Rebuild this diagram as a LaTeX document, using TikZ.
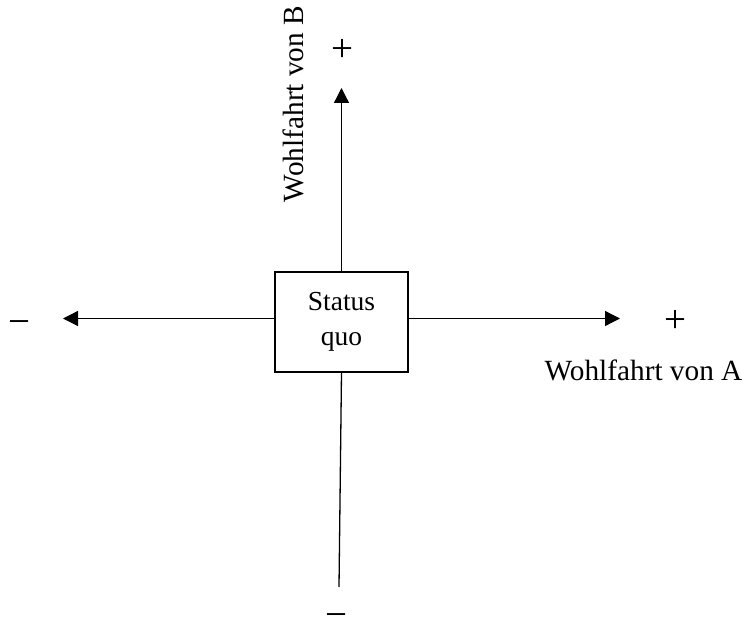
\documentclass[tikz,border=0pt]{standalone}
\usepackage{fontspec}
\setmainfont{Liberation Serif}
\usetikzlibrary{arrows.meta}
\begin{document}
\begin{tikzpicture}[x=1pt,y=-1pt,
  axisline/.style={line width=1.3pt},
  axisarrow/.style={axisline,-{Triangle[length=15pt,width=15pt]}},
  quobox/.style={draw,line width=1.3pt,minimum width=133pt,minimum height=100pt,
    inner sep=0pt,align=center,font=\fontsize{27.5}{37}\selectfont},
  sign/.style={inner sep=0pt,anchor=base,font=\fontsize{39}{39}\selectfont},
  axislabel/.style={inner sep=0pt,anchor=base,font=\fontsize{29.3}{35}\selectfont}]
\useasboundingbox (0,0) rectangle (745,623);

% central box
\node[quobox] (sq) at (341.5,322) {\raisebox{-2pt}{Status}\\quo};

% free ends of the axes
\coordinate (leftend) at (63,318.5);
\coordinate (rightend) at (620,318.5);
\coordinate (topend) at (341.5,88);
\coordinate (bottomend) at (339,587);

% axes
\draw[axisarrow] (sq.west |- leftend) -- (leftend);
\draw[axisarrow] (sq.east |- rightend) -- (rightend);
\draw[axisarrow] (sq.north) -- (topend);
\draw[axisline] (sq.south) -- (bottomend);

% signs at the axis ends
\node[sign] (plusA) at (675.5,332) {+};
\node[sign] (minusA) at (19,334) {−};
\node[sign] (plusB) at (342.5,62) {+};
\node[sign] (minusB) at (336,627) {−};

% axis titles
\node[axislabel] (labA) at (643.5,380) {Wohlfahrt von A};
\node[axislabel,rotate=90] (labB) at (303,104) {Wohlfahrt von B};
\end{tikzpicture}
\end{document}
